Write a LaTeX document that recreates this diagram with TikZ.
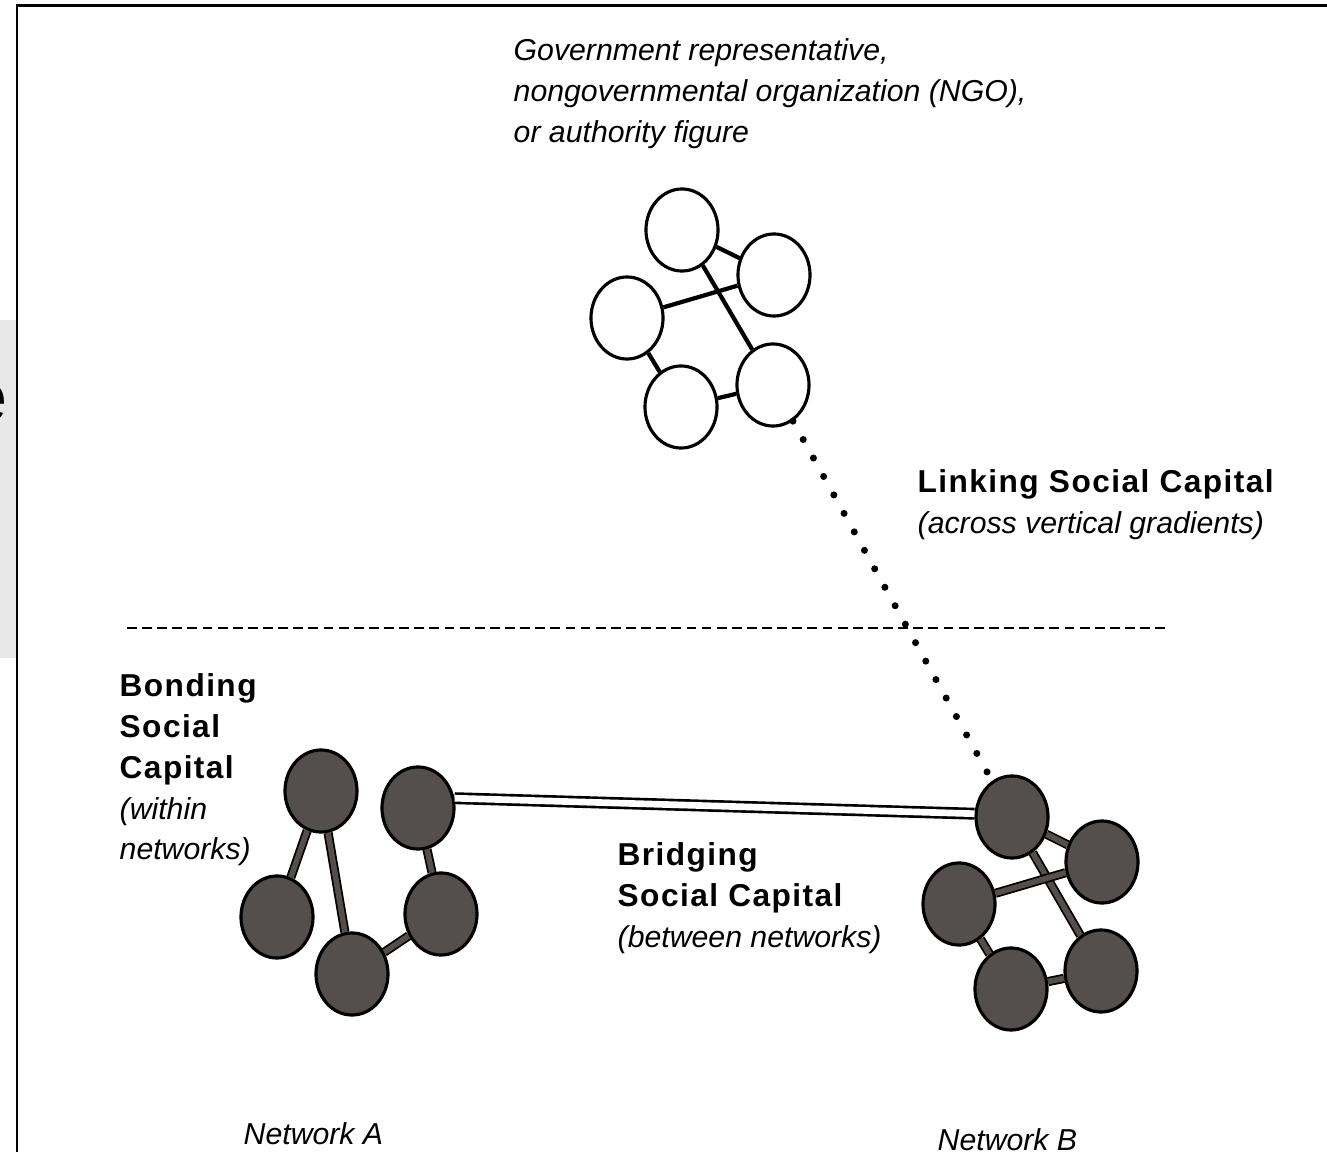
\documentclass[tikz,border=0pt]{standalone}
\usepackage{fontspec}
\setmainfont{Liberation Sans}[BoldFeatures={LetterSpace=4.5}]
\usepackage{tikz}
\usetikzlibrary{shapes.geometric}
\definecolor{netgray}{RGB}{84,78,76}
\definecolor{slidegray}{RGB}{232,232,232}
\newcommand{\capline}{\fontsize{9}{11.6}\selectfont\bfseries}
\newcommand{\noteline}{\fontsize{8.6}{11.6}\selectfont\itshape}
\tikzset{
	whitecirc/.style={ellipse,draw,line width=0.9pt,fill=white,minimum width=0.72cm,minimum height=0.82cm,inner sep=0pt},
	darkcirc/.style={ellipse,draw,line width=0.9pt,fill=netgray,minimum width=0.72cm,minimum height=0.82cm,inner sep=0pt},
	whitetie/.style={line width=1.2pt},
	darktie/.style={line width=0.5pt,double=netgray,double distance=1.6pt},
	bridgetie/.style={line width=0.75pt,double=white,double distance=1.9pt},
	linktie/.style={line width=2pt,line cap=round,dash pattern=on 0pt off 6pt},
	gradline/.style={line width=0.6pt,dash pattern=on 2.8pt off 1.5pt},
	lab/.style={align=left,inner sep=0pt,font=\fontsize{8.6}{11.6}\selectfont},
}

\begin{document}
\begin{tikzpicture}[x=0.01cm,y=-0.01cm]
		\useasboundingbox (0,0) rectangle (1327,1152);
		\fill[slidegray] (0,320) rectangle (16,658);
		\begin{scope}
			\clip (0,300) rectangle (16,700);
			\node[inner sep=0pt,anchor=base east,font=\fontsize{20}{20}\selectfont] (cutletter) at (8,422) {e};
		\end{scope}
		\draw[line width=0.8pt] (17,1152) -- (17,5.5) -- (1327,5.5);
		\node[lab,anchor=north west] (govtext) at (513,38) {\noteline Government representative,\\\noteline nongovernmental organization (NGO),\\\noteline or authority figure};
		\node[whitecirc] (gov1) at (682,230) {};
		\node[whitecirc] (gov2) at (774,275) {};
		\node[whitecirc] (gov3) at (627,318) {};
		\node[whitecirc] (gov4) at (681,407) {};
		\node[whitecirc] (gov5) at (773,385) {};
		\draw[whitetie] (gov1) -- (gov2);
		\draw[whitetie] (gov1) -- (gov5);
		\draw[whitetie] (gov3) -- (gov2);
		\draw[whitetie] (gov3) -- (gov4);
		\draw[whitetie] (gov4) -- (gov5);
		\node[lab,anchor=north west] (linking) at (917,469) {\capline Linking Social Capital\\\noteline (across vertical gradients)};
		\coordinate (gradleft) at (127,628);
		\coordinate (gradright) at (1165,628);
		\draw[gradline] (gradleft) -- (gradright);
		\node[lab,anchor=north west] (bonding) at (119,673) {\capline Bonding\\\capline Social\\\capline Capital\\\noteline (within\\\noteline networks)};
		\node[darkcirc] (neta1) at (321,791) {};
		\node[darkcirc] (neta2) at (418,808) {};
		\node[darkcirc] (neta3) at (277,917) {};
		\node[darkcirc] (neta4) at (352,974) {};
		\node[darkcirc] (neta5) at (441,914) {};
		\draw[darktie] (neta1) -- (neta3);
		\draw[darktie] (neta1) -- (neta4);
		\draw[darktie] (neta2) -- (neta5);
		\draw[darktie] (neta5) -- (neta4);
		\node[darkcirc] (netb1) at (1012,817) {};
		\node[darkcirc] (netb2) at (1102,862) {};
		\node[darkcirc] (netb3) at (959,904) {};
		\node[darkcirc] (netb4) at (1011,989) {};
		\node[darkcirc] (netb5) at (1101,971) {};
		\draw[darktie] (netb1) -- (netb2);
		\draw[darktie] (netb1) -- (netb5);
		\draw[darktie] (netb3) -- (netb2);
		\draw[darktie] (netb3) -- (netb4);
		\draw[darktie] (netb4) -- (netb5);
		\draw[bridgetie] (neta2.15) -- (netb1.175);
		\draw[linktie] (gov5) -- (netb1);
		\node[lab,anchor=north west] (bridging) at (617,842) {\capline Bridging\\\capline Social Capital\\\noteline (between networks)};
		\node[lab,anchor=base west] (netaname) at (243,1144) {\noteline Network A};
		\node[lab,anchor=base west] (netbname) at (937,1150) {\noteline Network B};
\end{tikzpicture}
\end{document}
